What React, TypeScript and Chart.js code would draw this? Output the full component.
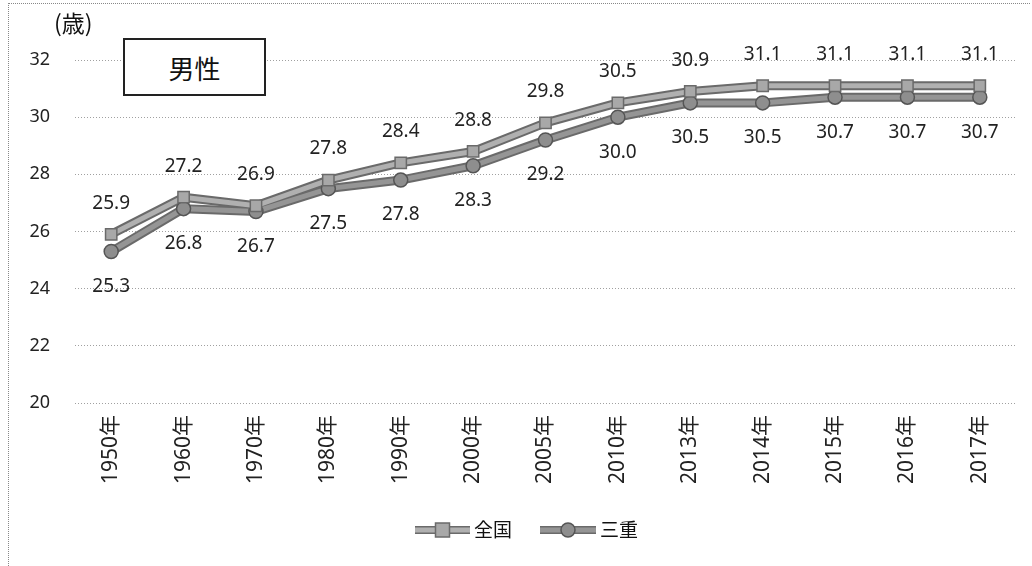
import React, { useEffect, useRef } from "react";
import { Chart, registerables } from "chart.js";

Chart.register(...registerables);

const categories = ["1950年", "1960年", "1970年", "1980年", "1990年", "2000年", "2005年", "2010年", "2013年", "2014年", "2015年", "2016年", "2017年"];
const zenkoku = [25.9, 27.2, 26.9, 27.8, 28.4, 28.8, 29.8, 30.5, 30.9, 31.1, 31.1, 31.1, 31.1];
const mie = [25.3, 26.8, 26.7, 27.5, 27.8, 28.3, 29.2, 30.0, 30.5, 30.5, 30.7, 30.7, 30.7];
const seriesNames = ["全国", "三重"];
const yTicks = [20, 22, 24, 26, 28, 30, 32];

const FONT = "'Noto Sans', 'Noto Sans CJK JP', sans-serif";
const JFONT = "'Noto Sans CJK JP', sans-serif";

const outlinePlugin = {
  id: "lineOutline",
  beforeDatasetsDraw(chart: any) {
    const ctx = chart.ctx;
    ctx.save();
    ctx.strokeStyle = "#6a6a6a";
    ctx.lineWidth = 9;
    ctx.lineJoin = "round";
    chart.data.datasets.forEach((_ds: any, di: number) => {
      const meta = chart.getDatasetMeta(di);
      ctx.beginPath();
      meta.data.forEach((pt: any, i: number) => {
        if (i === 0) ctx.moveTo(pt.x, pt.y);
        else ctx.lineTo(pt.x, pt.y);
      });
      ctx.stroke();
    });
    ctx.restore();
  },
};

const labelPlugin = {
  id: "valueLabels",
  afterDatasetsDraw(chart: any) {
    const ctx = chart.ctx;
    ctx.save();
    ctx.font = `19px ${FONT}`;
    ctx.fillStyle = "#222";
    ctx.textAlign = "center";
    ctx.textBaseline = "middle";
    chart.data.datasets.forEach((ds: any, di: number) => {
      const meta = chart.getDatasetMeta(di);
      meta.data.forEach((pt: any, i: number) => {
        const v = ds.data[i];
        const dy = di === 0 ? -31 : 35;
        ctx.fillText(v.toFixed(1), pt.x, pt.y + dy);
      });
    });
    ctx.restore();
  },
};

const legendPlugin = {
  id: "customLegend",
  afterDraw(chart: any) {
    const ctx = chart.ctx;
    ctx.save();
    const y = 530;
    const items = [
      { x0: 415, x1: 470, tx: 474, ds: chart.data.datasets[0] },
      { x0: 540, x1: 596, tx: 600, ds: chart.data.datasets[1] },
    ];
    items.forEach((it) => {
      ctx.strokeStyle = "#6a6a6a";
      ctx.lineWidth = 8;
      ctx.beginPath();
      ctx.moveTo(it.x0, y);
      ctx.lineTo(it.x1, y);
      ctx.stroke();
      ctx.strokeStyle = it.ds.borderColor;
      ctx.lineWidth = 5;
      ctx.beginPath();
      ctx.moveTo(it.x0, y);
      ctx.lineTo(it.x1, y);
      ctx.stroke();
      const cx = (it.x0 + it.x1) / 2;
      ctx.fillStyle = it.ds.pointBackgroundColor;
      ctx.strokeStyle = it.ds.pointBorderColor;
      ctx.lineWidth = 1.5;
      if (it.ds.pointStyle === "rect") {
        ctx.fillRect(cx - 7, y - 7, 14, 14);
        ctx.strokeRect(cx - 7, y - 7, 14, 14);
      } else {
        ctx.beginPath();
        ctx.arc(cx, y, 7, 0, Math.PI * 2);
        ctx.fill();
        ctx.stroke();
      }
      ctx.fillStyle = "#111";
      ctx.font = `19px ${JFONT}`;
      ctx.textAlign = "left";
      ctx.textBaseline = "middle";
      ctx.fillText(it.ds.label, it.tx, y);
    });
    ctx.restore();
  },
};

export default function App() {
  const ref = useRef<HTMLCanvasElement>(null);
  useEffect(() => {
    if (!ref.current) return;
    const chart = new Chart(ref.current, {
      type: "line",
      data: {
        labels: categories,
        datasets: [
          {
            label: seriesNames[0],
            data: zenkoku,
            borderColor: "#b0b0b0",
            borderWidth: 5,
            pointStyle: "rect",
            pointRadius: 8,
            pointBackgroundColor: "#a8a8a8",
            pointBorderColor: "#6a6a6a",
            pointBorderWidth: 1.5,
            tension: 0,
          },
          {
            label: seriesNames[1],
            data: mie,
            borderColor: "#959595",
            borderWidth: 5,
            pointStyle: "circle",
            pointRadius: 7,
            pointBackgroundColor: "#8e8e8e",
            pointBorderColor: "#555",
            pointBorderWidth: 1.5,
            tension: 0,
          },
        ],
      },
      options: {
        animation: false,
        responsive: false,
        layout: { padding: { top: 60, right: 16, bottom: 63, left: 0 } },
        plugins: {
          legend: { display: false },
          tooltip: { enabled: false },
        },
        scales: {
          x: {
            offset: true,
            grid: { display: false },
            border: { display: false },
            ticks: {
              color: "#222",
              font: { family: FONT, size: 21 },
              maxRotation: 90,
              minRotation: 90,
              padding: 4,
            },
            afterFit(scale: any) {
              scale.height = 100;
            },
          },
          y: {
            min: 20,
            max: 32,
            afterBuildTicks(scale: any) {
              scale.ticks = yTicks.map((v) => ({ value: v }));
            },
            grid: {
              color: "#a0a0a0",
              lineWidth: 1,
              drawTicks: false,
            },
            border: { display: false, dash: [1, 2] },
            ticks: {
              color: "#222",
              font: { family: FONT, size: 18 },
              padding: 25,
            },
            afterFit(scale: any) {
              scale.width = 75;
            },
          },
        },
      },
      plugins: [outlinePlugin, labelPlugin, legendPlugin],
    } as any);
    return () => chart.destroy();
  }, []);
  return (
    <div
      style={{
        position: "fixed",
        left: 0,
        top: 0,
        width: 1032,
        height: 566,
        background: "#fff",
        overflow: "hidden",
      }}
    >
      <div
        style={{
          position: "absolute",
          left: 8,
          top: 3,
          width: 1022,
          height: 563,
          borderLeft: "1px dotted #888",
          borderTop: "1px dotted #888",
          boxSizing: "border-box",
        }}
      />
      <canvas ref={ref} width={1032} height={566} style={{ position: "absolute", left: 0, top: 0 }} />
      <div
        style={{
          position: "absolute",
          left: 54,
          top: 6,
          fontFamily: JFONT,
          fontSize: 23,
          color: "#111",
          lineHeight: "32px",
        }}
      >
        (歳)
      </div>
      <div
        style={{
          position: "absolute",
          left: 123,
          top: 38,
          width: 143,
          height: 58,
          border: "2px solid #222",
          boxSizing: "border-box",
          background: "#fff",
          fontFamily: JFONT,
          fontSize: 26,
          color: "#111",
          display: "flex",
          alignItems: "center",
          justifyContent: "center",
        }}
      >
        男性
      </div>
    </div>
  );
}
